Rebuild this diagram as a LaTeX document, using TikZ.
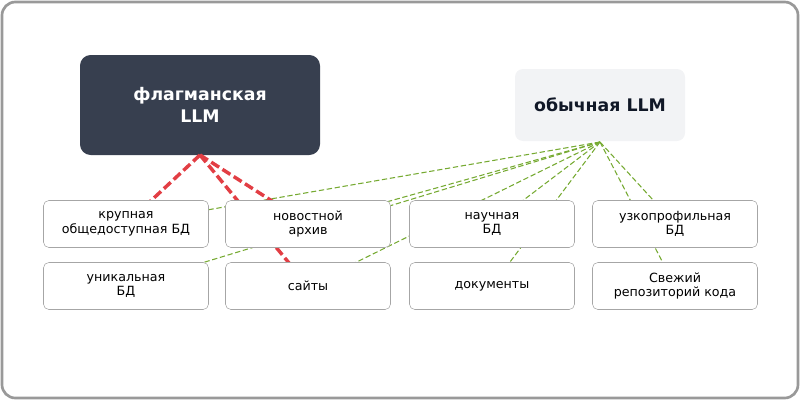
\documentclass[tikz,border=0pt]{standalone}
\usepackage{fontspec}
\setmainfont{DejaVu Sans}
\begin{document}
\begin{tikzpicture}[x=0.75pt,y=-0.75pt,
  box/.style={draw=black!35,fill=white,rounded corners=4pt,minimum width=165*0.75pt,minimum height=47*0.75pt,align=center,font=\fontsize{9.5}{11}\selectfont,inner sep=0pt},
  red/.style={draw={rgb,255:red,226;green,62;blue,68},line width=2.6pt,dash pattern=on 7pt off 3pt},
  grn/.style={draw={rgb,255:red,118;green,170;blue,50},line width=0.8pt,dash pattern=on 4pt off 2pt}]
\useasboundingbox (0,0) rectangle (800,400);
\draw[draw=black!40,line width=2pt,rounded corners=10pt] (2,2) rectangle (798,398);
\node[fill={rgb,255:red,55;green,63;blue,79},rounded corners=8pt,minimum width=240*0.75pt,minimum height=100*0.75pt,align=center,text=white,font=\bfseries\fontsize{13}{17}\selectfont,inner sep=0pt] (f) at (200,105) {флагманская\\LLM};
\node[fill={rgb,255:red,242;green,243;blue,245},rounded corners=6pt,minimum width=170*0.75pt,minimum height=72*0.75pt,font=\bfseries\fontsize{13}{16}\selectfont,text={rgb,255:red,17;green,24;blue,39},inner sep=0pt] (o) at (600,105) {обычная LLM};
\coordinate (fa) at (200,155);
\coordinate (oa) at (600,142);
\coordinate (c1) at (126,224); \coordinate (c2) at (308,224); \coordinate (c3) at (492,224); \coordinate (c4) at (675,224);
\coordinate (d1) at (126,286); \coordinate (d2) at (308,286); \coordinate (d3) at (492,286); \coordinate (d4) at (675,286);
\foreach \t in {c1,c2,c3,c4,d1,d2,d3,d4} \draw[grn] (oa) -- (\t);
\draw[red] (fa) -- (c1); \draw[red] (fa) -- (c2); \draw[red] (fa) -- (d2);
\node[box] (b1) at (c1) {крупная\\общедоступная БД};
\node[box] (b2) at (c2) {новостной\\архив};
\node[box] (b3) at (c3) {научная\\БД};
\node[box] (b4) at (c4) {узкопрофильная\\БД};
\node[box] (e1) at (d1) {уникальная\\БД};
\node[box] (e2) at (d2) {сайты};
\node[box] (e3) at (d3) {документы};
\node[box] (e4) at (d4) {Свежий\\репозиторий кода};
\end{tikzpicture}
\end{document}
